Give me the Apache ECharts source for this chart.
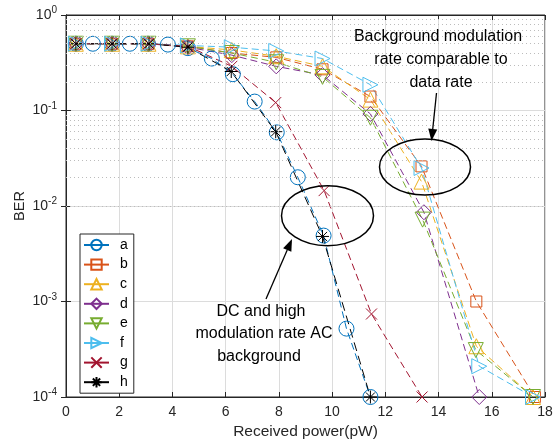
<!DOCTYPE html>
<html><head><meta charset="utf-8">
<script src="https://cdn.jsdelivr.net/npm/echarts@6/dist/echarts.min.js"></script>
<style>html,body{margin:0;padding:0;background:#fff}#c{width:559px;height:445px}</style>
</head><body><div id="c"></div>
<script>
// ---- data ----
const xA = [0.37, 1.01, 1.73, 2.40, 3.08, 3.83, 4.58, 5.48, 6.27, 7.09, 7.92, 8.71, 9.68, 10.54, 11.44];
const yA = [0.5, 0.5, 0.5, 0.5, 0.5, 0.49, 0.45, 0.35, 0.24, 0.124, 0.059, 0.020, 0.0049, 5.2e-4, 1e-4];
const xB = [0.37, 1.73, 3.10, 4.58, 6.23, 7.90, 9.64, 11.44, 13.36, 15.42, 17.62];
const yB = [0.5, 0.5, 0.5, 0.47, 0.40, 0.36, 0.27, 0.14, 0.026, 1.0e-3, 1e-4];
const xC = [0.37, 1.73, 3.10, 4.58, 6.23, 7.90, 9.64, 11.44, 13.36, 15.42, 17.55];
const yC = [0.5, 0.5, 0.5, 0.47, 0.43, 0.37, 0.29, 0.13, 0.018, 3.4e-4, 1e-4];
const xD = [0.37, 1.73, 3.10, 4.58, 6.23, 7.90, 9.64, 11.44, 13.45, 15.53];
const yD = [0.5, 0.5, 0.5, 0.46, 0.38, 0.29, 0.235, 0.092, 0.0086, 1e-4];
const xE = [0.37, 1.73, 3.10, 4.58, 6.23, 7.90, 9.64, 11.44, 13.40, 15.40, 17.55];
const yE = [0.5, 0.5, 0.5, 0.47, 0.40, 0.32, 0.225, 0.084, 0.0072, 3.1e-4, 1e-4];
const xF = [0.37, 1.73, 3.10, 4.58, 6.23, 7.90, 9.64, 11.44, 13.36, 15.53, 17.55];
const yF = [0.5, 0.5, 0.5, 0.48, 0.46, 0.42, 0.35, 0.186, 0.025, 2.1e-4, 1e-4];
const xG = [0.37, 1.73, 3.10, 4.58, 6.23, 7.88, 9.70, 11.48, 13.38];
const yG = [0.5, 0.5, 0.5, 0.47, 0.29, 0.121, 0.0145, 7.4e-4, 1e-4];
const xH = [0.37, 1.73, 3.12, 4.58, 6.21, 7.88, 9.64, 11.44];
const yH = [0.5, 0.5, 0.5, 0.46, 0.256, 0.06, 0.0048, 1e-4];
const seriesNames = ['a', 'b', 'c', 'd', 'e', 'f', 'g', 'h'];
const xTicks = [0, 2, 4, 6, 8, 10, 12, 14, 16, 18];
const yDecades = [1e-4, 1e-3, 1e-2, 1e-1, 1];

// ---- styles ----
const colors = ['#0072BD', '#D95319', '#EDB120', '#7E2F8E', '#77AC30', '#4DBEEE', '#A2142F', '#000000'];
const symbols = ['circle', 'rect', 'triangle', 'diamond', 'triangle', 'triangle',
  'path://M0,0L10,10M10,0L0,10',
  'path://M5,0L5,10M0,5L10,5M1.5,1.5L8.5,8.5M1.5,8.5L8.5,1.5'];
const symSizes = [15, 11, 15, 15, 15, 15, 11, 13];
const symRot = [0, 0, 0, 0, 180, -90, 0, 0];
const xs = [xA, xB, xC, xD, xE, xF, xG, xH];
const ys = [yA, yB, yC, yD, yE, yF, yG, yH];
const FONT = 'Liberation Sans, Arial, Helvetica, sans-serif';

const series = seriesNames.map((n, i) => ({
  name: n, type: 'line', z: 3,
  data: xs[i].map((x, k) => [x, ys[i][k]]),
  symbol: symbols[i], symbolSize: symSizes[i], symbolRotate: symRot[i],
  showAllSymbol: true,
  itemStyle: { color: 'transparent', borderColor: colors[i], borderWidth: 1 },
  lineStyle: { color: colors[i], width: 1, type: i === 7 ? [9, 5] : [7, 4] },
  emphasis: { disabled: true }, animation: false
}));

// minor log grid lines (dotted)
const minor = [];
for (let e = -4; e < 0; e++) for (let m = 2; m <= 9; m++) minor.push({ yAxis: m * Math.pow(10, e) });
series.unshift({
  name: '_grid', type: 'line', data: [], z: 1, silent: true, animation: false,
  markLine: { silent: true, symbol: ['none', 'none'], label: { show: false }, animation: false,
    lineStyle: { color: '#bcbcbc', type: [1, 3], width: 1 }, data: minor }
});

function supLabel(v) {
  const e = Math.round(Math.log10(v));
  return '10{s|' + e + '}';
}

const chart = echarts.init(document.getElementById('c'), null, { renderer: 'canvas' });

// arrow helper (annotation graphics)
function arrow(x1, y1, x2, y2) {
  const L = Math.hypot(x2 - x1, y2 - y1), dx = (x2 - x1) / L, dy = (y2 - y1) / L;
  const hl = 12, hw = 4.5;
  const bx = x2 - hl * dx, by = y2 - hl * dy;
  return [
    { type: 'line', shape: { x1, y1, x2: bx, y2: by }, style: { stroke: '#000', lineWidth: 1.3 }, z: 100 },
    { type: 'polygon', shape: { points: [[x2, y2], [bx - hw * dy, by + hw * dx], [bx + hw * dy, by - hw * dx]] },
      style: { fill: '#000' }, z: 100 }
  ];
}
function txt(s, x, y) {
  return { type: 'text', x, y, z: 100, style: { text: s, fill: '#000', font: '16px ' + FONT, textAlign: 'center', textVerticalAlign: 'middle' } };
}

chart.setOption({
  animation: false,
  backgroundColor: '#fff',
  grid: { left: 66, right: 14, top: 15, bottom: 47, show: true, borderColor: '#262626', borderWidth: 1, backgroundColor: 'transparent' },
  legend: {
    data: seriesNames, orient: 'vertical', left: 80, top: 234,
    itemWidth: 25, itemHeight: 13, itemGap: 5.6,
    backgroundColor: '#fff', borderColor: '#262626', borderWidth: 1, borderRadius: 0,
    padding: [4, 6, 4, 3],
    lineStyle: { type: 'solid' },
    textStyle: { fontFamily: FONT, fontSize: 14, color: '#000', padding: [0, 0, 0, 6] },
    selectedMode: false
  },
  xAxis: [{
    type: 'value', min: 0, max: 18, interval: 2, position: 'bottom',
    name: 'Received power(pW)', nameLocation: 'middle', nameGap: 27,
    nameTextStyle: { fontFamily: FONT, fontSize: 15.5, color: '#262626' },
    axisLine: { lineStyle: { color: '#262626' } },
    axisTick: { inside: true, length: 5, lineStyle: { color: '#262626' } },
    axisLabel: { fontFamily: FONT, fontSize: 14, color: '#262626', margin: 8 },
    splitLine: { show: true, lineStyle: { color: '#dcdcdc', width: 1 } }
  }, {
    type: 'value', min: 0, max: 18, interval: 2, position: 'top',
    axisLine: { show: true, lineStyle: { color: '#262626' } },
    axisTick: { inside: true, length: 5, lineStyle: { color: '#262626' } },
    axisLabel: { show: false }, splitLine: { show: false }
  }],
  yAxis: [{
    type: 'log', logBase: 10, min: 1e-4, max: 1,
    name: 'BER', nameLocation: 'middle', nameGap: 39, nameMoveOverlap: false,
    nameTextStyle: { fontFamily: FONT, fontSize: 14.5, color: '#262626' },
    axisLine: { show: true, lineStyle: { color: '#262626' } },
    axisTick: { show: true, inside: true, length: 5, lineStyle: { color: '#262626' } },
    axisLabel: { fontFamily: FONT, fontSize: 14, color: '#262626', margin: 9, formatter: supLabel,
      rich: { s: { fontFamily: FONT, fontSize: 10, color: '#262626', verticalAlign: 'top', padding: [0, 0, 9, 0] } } },
    splitLine: { show: true, lineStyle: { color: '#dcdcdc', width: 1 } }
  }, {
    type: 'log', logBase: 10, min: 1e-4, max: 1, position: 'right',
    axisLine: { show: true, lineStyle: { color: '#262626' } },
    axisTick: { show: true, inside: true, length: 5, lineStyle: { color: '#262626' } },
    axisLabel: { show: false }, splitLine: { show: false }
  }],
  series: series,
  graphic: [
    { type: 'ellipse', shape: { cx: 425, cy: 167, rx: 45.5, ry: 28 }, style: { fill: 'none', stroke: '#000', lineWidth: 1.5 }, z: 100 },
    { type: 'ellipse', shape: { cx: 327.5, cy: 215.7, rx: 46, ry: 30 }, style: { fill: 'none', stroke: '#000', lineWidth: 1.5 }, z: 100 },
    ...arrow(436.5, 93, 431.5, 141),
    ...arrow(266, 299, 292, 239),
    txt('Background modulation', 438, 37),
    txt('rate comparable to', 441, 60),
    txt('data rate', 441, 83),
    txt('DC and high', 261, 312),
    txt('modulation rate AC', 264, 334),
    txt('background', 259, 357)
  ]
});
</script></body></html>
